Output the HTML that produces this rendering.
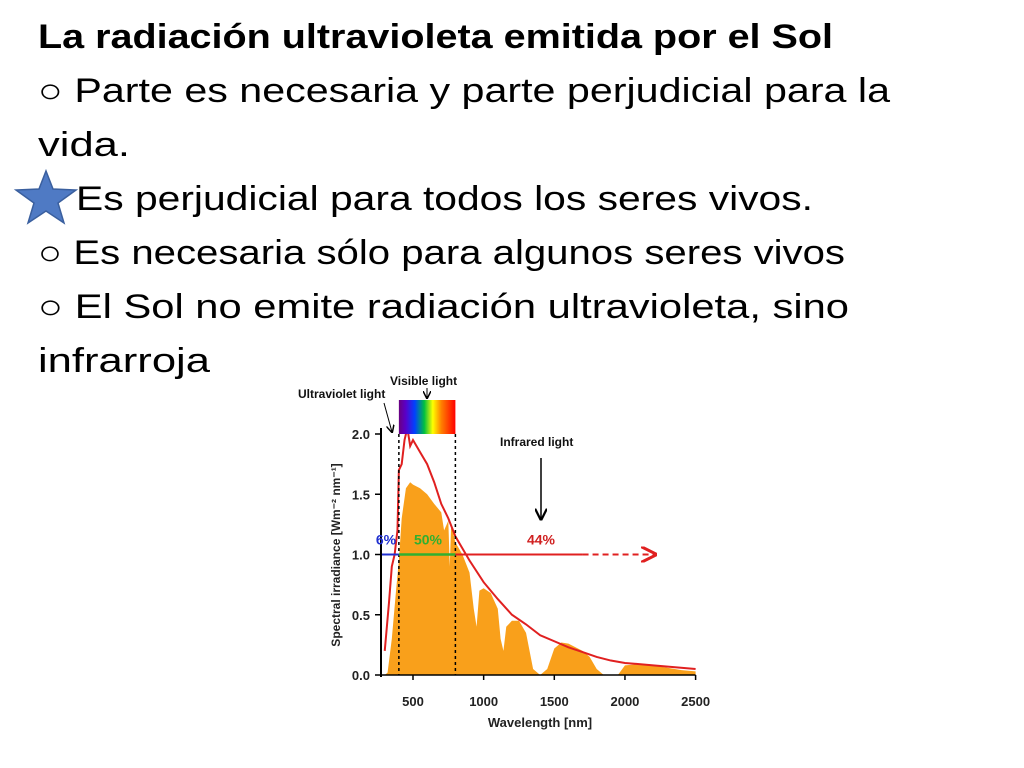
<!DOCTYPE html>
<html><head><meta charset="utf-8"><style>
html,body{margin:0;padding:0;background:#fff;width:1024px;height:768px;overflow:hidden}
svg{display:block}
text{font-family:"Liberation Sans",sans-serif}
</style></head><body>
<svg id="s" width="1024" height="768">
<g font-size="34" fill="#000">
<text x="38" y="48" font-weight="bold" textLength="795" lengthAdjust="spacingAndGlyphs">La radiación ultravioleta emitida por el Sol</text>
<text x="38" y="102" textLength="852" lengthAdjust="spacingAndGlyphs">○ Parte es necesaria y parte perjudicial para la</text>
<text x="38" y="156" textLength="92" lengthAdjust="spacingAndGlyphs">vida.</text>
<text x="76" y="210" textLength="737" lengthAdjust="spacingAndGlyphs">Es perjudicial para todos los seres vivos.</text>
<text x="38" y="264" textLength="807" lengthAdjust="spacingAndGlyphs">○ Es necesaria sólo para algunos seres vivos</text>
<text x="38" y="318" textLength="811" lengthAdjust="spacingAndGlyphs">○ El Sol no emite radiación ultravioleta, sino</text>
<text x="38" y="372" textLength="172" lengthAdjust="spacingAndGlyphs">infrarroja</text>
</g>
<polygon points="46,171 53,189 76,190 58,203 64,223 46,211 28,223 34,203 16,190 39,189" fill="#4f7ac4" stroke="#3a5f9e" stroke-width="1.5"/>
<defs><linearGradient id="spec" x1="0" x2="1">
<stop offset="0" stop-color="#6a0080"/><stop offset="0.12" stop-color="#5a00c8"/><stop offset="0.28" stop-color="#0040ff"/><stop offset="0.45" stop-color="#00c040"/><stop offset="0.6" stop-color="#ffff00"/><stop offset="0.75" stop-color="#ff8000"/><stop offset="1" stop-color="#ff0000"/></linearGradient>
<marker id="ar" markerWidth="8" markerHeight="8" refX="7" refY="4" orient="auto"><path d="M0,0 L8,4 L0,8" fill="none" stroke="#e02020" stroke-width="1.5"/></marker>
<marker id="ak" markerWidth="8" markerHeight="8" refX="7" refY="4" orient="auto"><path d="M0,0 L8,4 L0,8" fill="none" stroke="#000" stroke-width="1.5"/></marker>
</defs>
<g id="chart"></g>
</svg>
<script>
const wl=[300,320,350,380,400,420,450,480,500,550,600,650,700,720,750,760,770,800,850,900,930,950,970,1000,1050,1100,1120,1140,1160,1200,1250,1300,1350,1400,1450,1500,1550,1600,1700,1750,1800,1850,1950,2000,2100,2200,2300,2400,2500];
const surface=[0,0.02,0.3,0.7,0.95,1.3,1.55,1.6,1.58,1.55,1.5,1.42,1.35,1.2,1.28,0.9,1.25,1.1,1.0,0.85,0.55,0.4,0.7,0.72,0.68,0.55,0.3,0.2,0.4,0.45,0.45,0.35,0.05,0,0.05,0.22,0.27,0.26,0.2,0.15,0.05,0,0,0.08,0.09,0.08,0.06,0.04,0.03];
const topWl=[300,330,350,370,390,400,420,440,460,480,500,550,600,650,700,750,800,900,1000,1100,1200,1300,1400,1500,1600,1700,1800,1900,2000,2200,2500];
const topAtm=[0.2,0.6,0.9,1.0,1.2,1.7,1.75,1.95,2.05,1.9,1.95,1.85,1.75,1.6,1.42,1.3,1.15,0.95,0.77,0.63,0.5,0.42,0.33,0.28,0.23,0.19,0.15,0.12,0.1,0.08,0.05];
const yTicks=[0,0.5,1.0,1.5,2.0];
const xTicks=[500,1000,1500,2000,2500];
const X=w=>413+(w-500)*0.1413, Y=v=>675-v*120.5;
const NS='http://www.w3.org/2000/svg', g=document.getElementById('chart');
function el(t,a,txt){const e=document.createElementNS(NS,t);for(const k in a)e.setAttribute(k,a[k]);if(txt!=null)e.textContent=txt;g.appendChild(e);return e;}
let d='M'+X(wl[0])+','+Y(0);wl.forEach((w,i)=>d+=' L'+X(w)+','+Y(surface[i]));d+=' L'+X(2500)+','+Y(0)+'Z';
let p=el('path',{d:d,fill:'#f9a01b'});


let d2='';topWl.forEach((w,i)=>d2+=(i?' L':'M')+X(w)+','+Y(topAtm[i]));
p=el('path',{d:d2,fill:'none',stroke:'#e02020','stroke-width':2});


// axes
p=el('line',{x1:381,y1:Y(2.05),x2:381,y2:Y(0)+2,stroke:'#000','stroke-width':2});


p=el('line',{x1:381,y1:Y(0),x2:X(2500),y2:Y(0),stroke:'#000','stroke-width':1.5});


yTicks.forEach(v=>{el('line',{x1:375,y1:Y(v),x2:381,y2:Y(v),stroke:'#000','stroke-width':1.5});
 const t=el('text',{x:370,y:Y(v)+5,'text-anchor':'end','font-size':13,'font-weight':'bold',fill:'#222'},v.toFixed(1));
 
 });
xTicks.forEach(v=>{el('line',{x1:X(v),y1:Y(0),x2:X(v),y2:Y(0)+5,stroke:'#000','stroke-width':1.5});
 const t=el('text',{x:X(v),y:706,'text-anchor':'middle','font-size':13,'font-weight':'bold',fill:'#222'},v);
 
 });
let t=el('text',{x:540,y:727,'text-anchor':'middle','font-size':13,'font-weight':'bold',fill:'#222'},'Wavelength [nm]');


t=el('text',{transform:'translate(340,555) rotate(-90)','text-anchor':'middle','font-size':12,'font-weight':'bold',fill:'#222'},'Spectral irradiance [Wm⁻² nm⁻¹]');


// spectrum bar & dashed lines
p=el('rect',{x:X(400),y:400,width:X(800)-X(400),height:Y(2.0)-400,fill:'url(#spec)'});


[400,800].forEach(w=>{p=el('line',{x1:X(w),y1:Y(2.0),x2:X(w),y2:Y(0),stroke:'#000','stroke-width':1.5,'stroke-dasharray':'3,3'});

});
// labels
[['Ultraviolet light',298,398,'uv-label'],['Visible light',390,385,'visible-label'],['Infrared light',500,446,'infrared-label']].forEach(a=>{
 t=el('text',{x:a[1],y:a[2],'font-size':12,'font-weight':'bold',fill:'#111'},a[0]);
 
 });
el('line',{x1:384,y1:403,x2:392,y2:432,stroke:'#000','stroke-width':1,'marker-end':'url(#ak)'});
el('line',{x1:427,y1:388,x2:427,y2:398,stroke:'#000','stroke-width':1,'marker-end':'url(#ak)'});
el('line',{x1:541,y1:458,x2:541,y2:519,stroke:'#000','stroke-width':1.5,'marker-end':'url(#ak)'});
// percentage arrows
const ya=Y(1.0);
el('line',{x1:382,y1:ya,x2:X(400),y2:ya,stroke:'#2030d0','stroke-width':2});
el('line',{x1:X(400),y1:ya,x2:X(800),y2:ya,stroke:'#30b030','stroke-width':2.5});
el('line',{x1:X(800),y1:ya,x2:X(1700),y2:ya,stroke:'#e02020','stroke-width':2});
el('line',{x1:X(1700),y1:ya,x2:X(2000)+30,y2:ya,stroke:'#e02020','stroke-width':2,'stroke-dasharray':'6,4','marker-end':'url(#ar)'});
[['6%',386,'#2030d0','uv-percent'],['50%',428,'#30b030','visible-percent'],['44%',541,'#d02020','infrared-percent']].forEach(a=>{
 t=el('text',{x:a[1],y:ya-10,'text-anchor':'middle','font-size':14,'font-weight':'bold',fill:a[2]},a[0]);
 
 });
</script>
</body></html>
